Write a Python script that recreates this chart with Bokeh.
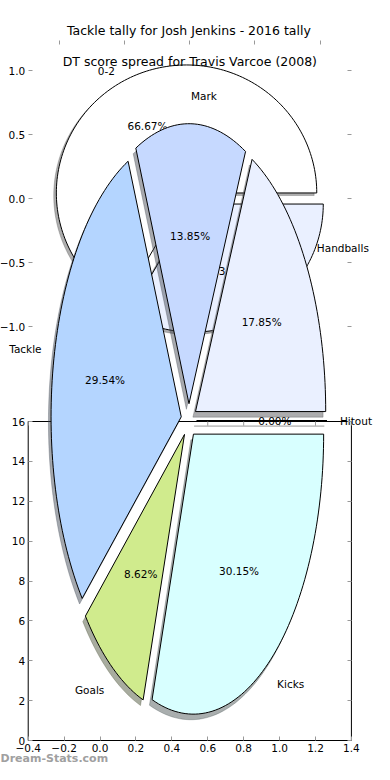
import numpy as np
from bokeh.plotting import figure
from bokeh.models import Range1d, LinearAxis, FixedTicker, ColumnDataSource
from bokeh.core.properties import value, field
from bokeh.embed import file_html
from bokeh.resources import INLINE

# ---------------- data ----------------
top_title = "DT score spread for Travis Varcoe (2008)"
top_labels = ["0-2", "3"]
top_values = [2, 1]
top_colors = ["#ffffff", "#eaf0ff"]

main_title = "Tackle tally for Josh Jenkins - 2016 tally"
main_labels = ["Hitout", "Handballs", "Mark", "Tackle", "Goals", "Kicks"]
main_values = [0.00, 17.85, 13.85, 29.54, 8.62, 30.15]
main_colors = ["#f4f4f4", "#eaf0ff", "#c6d9ff", "#b4d5ff", "#d0eb8d", "#d8ffff"]

x_ticks = [-0.4, -0.2, 0.0, 0.2, 0.4, 0.6, 0.8, 1.0, 1.2, 1.4]
y_ticks = [0, 2, 4, 6, 8, 10, 12, 14, 16]
top_x_ticks = [-1.0, -0.5, 0.0, 0.5, 1.0]
top_y_ticks = [1.0, 0.5, 0.0, -0.5, -1.0]
watermark = "Dream-Stats.com"

FONT = value("DejaVu Sans")
LBL = value("10.5px")
TTL = value("12.5px")
TICKC = "#999999"

# ---------------- layout (reference pixel space) ----------------
W, H = 374, 764
RX0, RX1 = -10, 395          # reference x shown across the canvas
RY0, RY1 = 0, 764            # reference y shown down the canvas
BX0, BX1, BY0, BY1 = 20, 370, 740, 421   # box of the bar axes


def mx(r):
    return x_ticks[0] + (r - BX0) * (x_ticks[-1] - x_ticks[0]) / (BX1 - BX0)


def my(r):
    return y_ticks[0] + (BY0 - r) * (y_ticks[-1] - y_ticks[0]) / (BY0 - BY1)


TOP = dict(cx=195.0, cy=198.0, rx=141.0, ry=128.0, ex=0.05)
BIG = dict(cx=194.0, cy=420.0, rx=141.0, ry=280.0, ex=0.06)


def hex_rgb(h):
    h = h.lstrip("#")
    return tuple(int(h[i:i + 2], 16) for i in (0, 2, 4))


def pie(vals, labels, colors, g, n=240):
    vals = np.asarray(vals, float)
    tot = vals.sum()
    bounds = np.concatenate([[0.0], np.cumsum(vals / tot)]) * 2 * np.pi
    d = dict(xs=[], ys=[], sxs=[], sys=[], color=list(colors), scolor=[],
             lx=[], ly=[], align=[], label=list(labels), tx=[], ty=[], pct=[])
    for v, c, a0, a1 in zip(vals, colors, bounds[:-1], bounds[1:]):
        mid = 0.5 * (a0 + a1)
        ox = g["cx"] + g["ex"] * g["rx"] * np.cos(mid)
        oy = g["cy"] - g["ex"] * g["ry"] * np.sin(mid)
        m = max(2, int(n * (a1 - a0) / (2 * np.pi)) + 2)
        th = np.linspace(a0, a1, m)
        xs = np.concatenate([[ox], ox + g["rx"] * np.cos(th)])
        ys = np.concatenate([[oy], oy - g["ry"] * np.sin(th)])
        d["xs"].append(list(xs))
        d["ys"].append(list(ys))
        d["sxs"].append(list(xs - 0.02 * g["rx"]))
        d["sys"].append(list(ys + 0.02 * g["ry"]))
        r, gg, b = hex_rgb(c)
        d["scolor"].append("#%02x%02x%02x" % (int(.3 * r), int(.3 * gg), int(.3 * b)))
        lx = ox + 1.1 * g["rx"] * np.cos(mid)
        d["lx"].append(lx)
        d["ly"].append(oy - 1.1 * g["ry"] * np.sin(mid))
        d["align"].append("left" if lx > g["cx"] else "right")
        d["tx"].append(ox + 0.6 * g["rx"] * np.cos(mid))
        d["ty"].append(oy - 0.6 * g["ry"] * np.sin(mid))
        d["pct"].append("%1.2f%%" % (100.0 * v / tot))
    return ColumnDataSource(d)


p = figure(width=W, height=H, output_backend="svg", toolbar_location=None, title=None,
           x_range=Range1d(mx(RX0), mx(RX1)), y_range=Range1d(my(RY1), my(RY0)),
           min_border=0, min_border_left=0, min_border_right=0, min_border_top=0,
           min_border_bottom=0, x_axis_location=None, y_axis_location=None)
p.outline_line_color = None
p.background_fill_color = "white"
p.border_fill_color = "white"
for gr in p.grid:
    gr.visible = False

p.extra_x_ranges = {"px": Range1d(RX0, RX1),
                    "xt": Range1d((RX0 - TOP["cx"]) / TOP["rx"], (RX1 - TOP["cx"]) / TOP["rx"])}
p.extra_y_ranges = {"py": Range1d(RY1, RY0)}


# ---------------- axes (fixed inside the canvas) ----------------
def style(ax):
    ax.axis_line_color = None
    ax.major_tick_in = 4
    ax.major_tick_out = 0
    ax.major_tick_line_color = TICKC
    ax.minor_tick_line_color = None
    ax.major_label_text_font = "DejaVu Sans"
    ax.major_label_text_font_size = "10.5px"
    ax.major_label_text_color = "black"
    ax.major_label_standoff = 3


xa = LinearAxis(ticker=FixedTicker(ticks=x_ticks), fixed_location=y_ticks[0],
                major_label_overrides={t: ("%.1f" % t).replace("-", "\u2212") for t in x_ticks})
style(xa)
p.add_layout(xa, "below")

ytk_main = [float(t) for t in y_ticks]
ytk_top = [my(TOP["cy"] - TOP["ry"] * v) for v in top_y_ticks]
y_over = {t: str(int(t)) for t in ytk_main}
y_over.update({t: ("%.1f" % v).replace("-", "\u2212") for t, v in zip(ytk_top, top_y_ticks)})
ya = LinearAxis(ticker=FixedTicker(ticks=ytk_main + ytk_top), major_label_overrides=y_over,
                fixed_location=x_ticks[0])
style(ya)
p.add_layout(ya, "left")

yr = LinearAxis(ticker=FixedTicker(ticks=ytk_main + ytk_top), fixed_location=x_ticks[-1],
                major_label_overrides={t: "" for t in ytk_main + ytk_top})
style(yr)
p.add_layout(yr, "right")

xt = LinearAxis(x_range_name="xt", ticker=FixedTicker(ticks=top_x_ticks),
                fixed_location=my(40),
                major_label_overrides={t: "" for t in top_x_ticks})
style(xt)
p.add_layout(xt, "above")

# ---------------- top pie (drawn first) ----------------
ts = pie(top_values, top_labels, top_colors, TOP)
p.patches("sxs", "sys", source=ts, fill_color="scolor", fill_alpha=0.45,
          line_color="scolor", line_alpha=0.3, x_range_name="px", y_range_name="py")
p.patches("xs", "ys", source=ts, fill_color="color", line_color="black", line_width=1,
          x_range_name="px", y_range_name="py")
p.text("lx", "ly", text="label", source=ts, text_align=field("align"), text_baseline="middle",
       text_font=FONT, text_font_size=LBL, text_color="black",
       x_range_name="px", y_range_name="py")
p.text("tx", "ty", text="pct", source=ts, text_align="center", text_baseline="middle",
       text_font=FONT, text_font_size=LBL, text_color="black",
       x_range_name="px", y_range_name="py")
p.text(x=[TOP["cx"]], y=[61], text=[top_title], text_align="center", text_baseline="middle",
       text_font=FONT, text_font_size=TTL, text_color="black",
       x_range_name="px", y_range_name="py")

# ---------------- bar axes box ----------------
p.quad(left=x_ticks[0], right=x_ticks[-1], bottom=y_ticks[0], top=y_ticks[-1],
       fill_color=None, line_color="black", line_width=1)
tick_len = 4 * (y_ticks[-1] - y_ticks[0]) / (BY0 - BY1)
p.segment(x0=x_ticks, y0=[y_ticks[-1]] * len(x_ticks), x1=x_ticks,
          y1=[y_ticks[-1] - tick_len] * len(x_ticks), line_color=TICKC, line_width=1)

# ---------------- big pie ----------------
bs = pie(main_values, main_labels, main_colors, BIG)
p.patches("sxs", "sys", source=bs, fill_color="scolor", fill_alpha=0.45,
          line_color="scolor", line_alpha=0.3, x_range_name="px", y_range_name="py")
p.patches("xs", "ys", source=bs, fill_color="color", line_color="black", line_width=1,
          x_range_name="px", y_range_name="py")
p.text("tx", "ty", text="pct", source=bs, text_align="center", text_baseline="middle",
       text_font=FONT, text_font_size=LBL, text_color="black",
       x_range_name="px", y_range_name="py")
p.text("lx", "ly", text="label", source=bs, text_align=field("align"), text_baseline="middle",
       text_font=FONT, text_font_size=LBL, text_color="black",
       x_range_name="px", y_range_name="py")

# ---------------- titles / watermark ----------------
p.text(x=[BIG["cx"]], y=[30], text=[main_title], text_align="center", text_baseline="middle",
       text_font=FONT, text_font_size=TTL, text_color="black",
       x_range_name="px", y_range_name="py")
p.text(x=[RX0], y=[758], text=[watermark], text_align="left", text_baseline="middle",
       text_font=FONT, text_font_size=value("11px"), text_font_style="bold",
       text_color="#a0a0a0", x_range_name="px", y_range_name="py")

open("out.html", "w").write(file_html(p, INLINE))
